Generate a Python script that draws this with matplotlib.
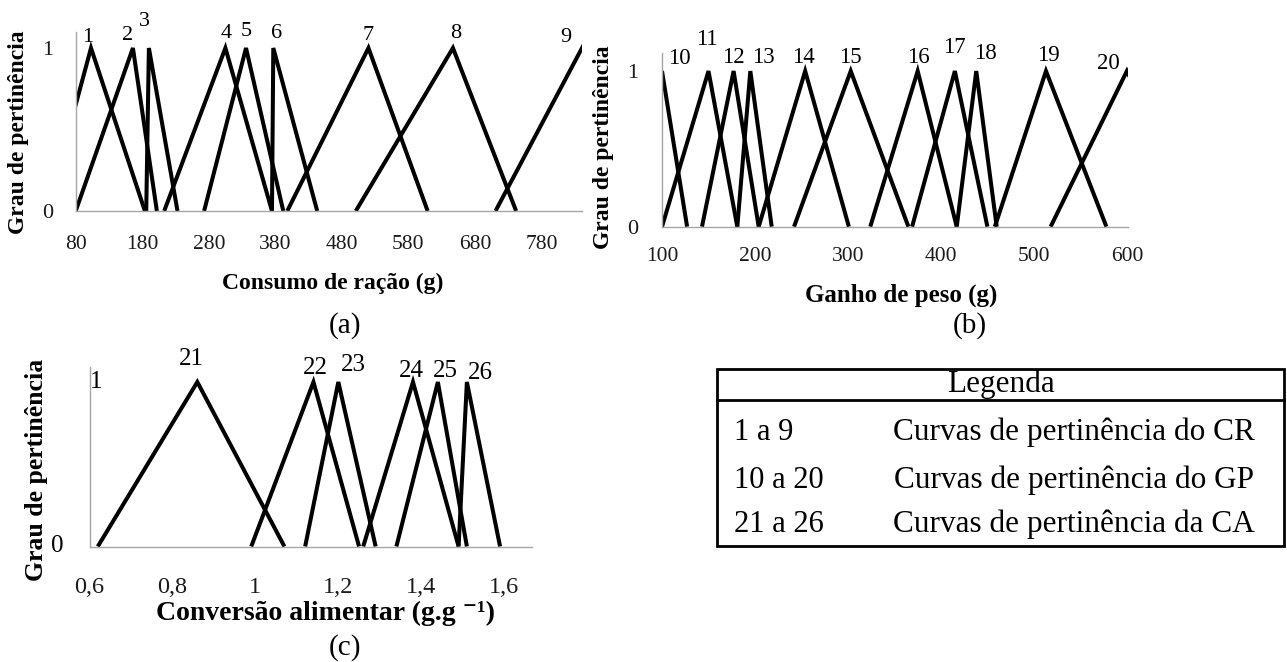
import matplotlib
matplotlib.use("Agg")
import matplotlib.pyplot as plt
from matplotlib.patches import Rectangle

plt.rcParams['font.family'] = ['Liberation Serif', 'DejaVu Serif']

W, H = 1287, 662

# triangular membership functions: (left foot, peak, right foot)
cr_ids = list(range(1, 10))
cr_tri = [(37, 103, 184), (80, 166, 202), (186, 190, 233), (213, 305, 375),
          (273, 336, 392), (375, 377, 443), (398, 520, 609), (501, 647, 742),
          (711, 841, 971)]
cr_ticks = [80, 180, 280, 380, 480, 580, 680, 780]

gp_ids = list(range(10, 21))
gp_tri = [(74, 100, 127), (100, 150, 181), (143, 177, 204), (181, 195, 218),
          (204, 254, 301), (242, 303, 365), (324, 375, 417), (369, 415, 450),
          (417, 438, 460), (458, 513, 578), (518, 600, 682)]
gp_ticks = [100, 200, 300, 400, 500, 600]

ca_ids = list(range(21, 27))
ca_tri = [(0.62, 0.86, 1.07), (0.99, 1.14, 1.25), (1.12, 1.20, 1.29),
          (1.26, 1.38, 1.49), (1.34, 1.44, 1.51), (1.49, 1.51, 1.59)]
ca_ticks = [0.6, 0.8, 1.0, 1.2, 1.4, 1.6]
ca_tick_labels = ['0,6', '0,8', '1', '1,2', '1,4', '1,6']

legend_ranges = ['1 a 9', '10 a 20', '21 a 26']
legend_desc = ['Curvas de pertinência do CR',
               'Curvas de pertinência do GP',
               'Curvas de pertinência da CA']

# label offsets from the peak, in pixels (dx, up)
cr_off = [(-3, 10), (-5, 13), (-4, 26), (1, 15), (0, 16), (3, 15), (0, 13), (3, 15), (-16, 11)]
gp_off = [(17, 13), (-2, 32), (0, 14), (13, 14), (-2, 14), (0, 14), (1, 14), (-1, 24),
          (9, 18), (2, 16), (-18, 8)]
ca_off = [(-6, 23), (2, 14), (15, 17), (-2, 11), (8, 11), (13, 9)]

PT = 0.72  # points per pixel at dpi 100

fig = plt.figure(figsize=(W / 100, H / 100), dpi=100)


def px_axes(l, t, r, b):
    return fig.add_axes([l / W, 1 - b / H, (r - l) / W, (b - t) / H])


def panel(rect, tri, ids, offs, xlim, ytop, lab_fs):
    ax = px_axes(*rect)
    for (l, p, r), n, (dx, dy) in zip(tri, ids, offs):
        ax.plot([l, p, r], [0, 1, 0], color='black', lw=2.9,
                solid_joinstyle='miter', solid_capstyle='butt')
        ax.annotate(str(n), xy=(p, 1), xytext=(dx * PT, dy * PT),
                    textcoords='offset points', ha='center', va='center',
                    fontsize=lab_fs, annotation_clip=False)
    ax.set_xlim(*xlim)
    ax.set_ylim(0, ytop)
    for s in ['top', 'right']:
        ax.spines[s].set_visible(False)
    for s in ['left', 'bottom']:
        ax.spines[s].set_color('#a6a6a6')
        ax.spines[s].set_linewidth(1.0)
    ax.patch.set_alpha(0)
    return ax


# (a) Consumo de ração
ax1 = panel((75.7, 31.7, 582, 211), cr_tri, cr_ids, cr_off, (80, 841), 1.1, 16)
ax1.set_xticks(cr_ticks, [str(t) for t in cr_ticks])
ax1.set_yticks([0, 1], ['0', '1'])
ax1.tick_params(axis='x', length=0, pad=17, labelsize=15.5, labelcolor='#1a1a1a')
ax1.tick_params(axis='y', length=0, pad=16, labelsize=16, labelcolor='#1a1a1a')

# (b) Ganho de peso
ax2 = panel((662, 53, 1127.8, 226.7), gp_tri, gp_ids, gp_off, (100, 601), 1.116, 16.5)
ax2.set_xticks(gp_ticks, [str(t) for t in gp_ticks])
ax2.set_yticks([0, 1], ['0', '1'])
ax2.tick_params(axis='x', length=0, pad=14.5, labelsize=15.5, labelcolor='#1a1a1a')
ax2.tick_params(axis='y', length=0, pad=17, labelsize=16, labelcolor='#1a1a1a')

# (c) Conversão alimentar
ax3 = panel((89.5, 366.7, 532, 546.5), ca_tri, ca_ids, ca_off, (0.6, 1.667), 1.093, 18)
ax3.set_xticks(ca_ticks, ca_tick_labels)
ax3.set_yticks([])
ax3.tick_params(axis='x', length=0, pad=22, labelsize=17.5, labelcolor='#1a1a1a')
ax3.annotate('1', xy=(0, 1), xycoords=('axes fraction', 'data'), xytext=(7 * PT, 0),
             textcoords='offset points', ha='center', va='center', fontsize=18)
ax3.annotate('0', xy=(0, 0), xycoords=('axes fraction', 'data'), xytext=(-32 * PT, 0),
             textcoords='offset points', ha='center', va='center', fontsize=18)


def ftext(x, y, s, **kw):
    fig.text(x / W, 1 - y / H, s, ha='center', va='center', **kw)


ftext(19, 132, 'Grau de pertinência', rotation=90, fontsize=17, fontweight='bold')
ftext(603, 147, 'Grau de pertinência', rotation=90, fontsize=17, fontweight='bold')
ftext(36.5, 470, 'Grau de pertinência', rotation=90, fontsize=18.5, fontweight='bold')

ftext(333, 283, 'Consumo de ração (g)', fontsize=17, fontweight='bold')
ftext(901, 295, 'Ganho de peso (g)', fontsize=18, fontweight='bold')
ftext(326, 613, 'Conversão alimentar (g.g ⁻¹)', fontsize=20, fontweight='bold')

ftext(345, 326, '(a)', fontsize=21)
ftext(970, 326, '(b)', fontsize=21)
ftext(345, 648, '(c)', fontsize=21)

# legend table, drawn in pixel coordinates
tl, tt, tr, tb = 717, 369, 1284, 546
axl = px_axes(tl, tt, tr, tb)
axl.set_xlim(tl, tr)
axl.set_ylim(tb, tt)
axl.axis('off')
axl.add_patch(Rectangle((tl, tt), tr - tl, tb - tt, fill=False, lw=2.0,
                        edgecolor='black', clip_on=False))
axl.plot([tl, tr], [400, 400], color='black', lw=2.0, clip_on=False)
axl.text((tl + tr) / 2, 391.7, 'Legenda', ha='center', va='baseline', fontsize=22.5)
row_base = [440, 488.3, 531.7]
for y, rng, desc in zip(row_base, legend_ranges, legend_desc):
    axl.text(733.7, y, rng, ha='left', va='baseline', fontsize=22)
    axl.text(1074, y, desc, ha='center', va='baseline', fontsize=22.5)

fig.savefig('out.png', dpi=100)
